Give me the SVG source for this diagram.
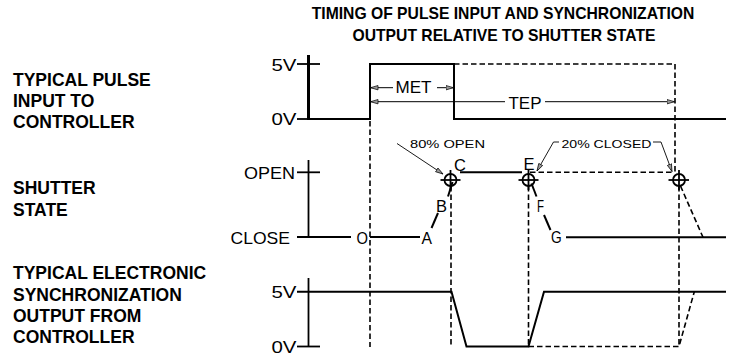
<svg xmlns="http://www.w3.org/2000/svg" width="746" height="356" viewBox="0 0 746 356">
<style>
.lbl{font-family:"Liberation Sans",Arial,sans-serif;font-weight:bold;font-size:17.5px;fill:#000}
.ttl{font-family:"Liberation Sans",Arial,sans-serif;font-weight:bold;font-size:15.7px;fill:#000;text-anchor:middle}
.cad{font-family:"Liberation Sans",Arial,sans-serif;font-size:16.5px;fill:#000}
.sm{font-family:"Liberation Sans",Arial,sans-serif;font-size:11.5px;fill:#000}
.sig{fill:none;stroke:#000;stroke-width:2}
.ax{fill:none;stroke:#000;stroke-width:1.8}
.dash{fill:none;stroke:#000;stroke-width:1.6;stroke-dasharray:5.5,3}
.thin{fill:none;stroke:#000;stroke-width:1}
.ld{fill:none;stroke:#000;stroke-width:0.9}
</style>
<defs>
<marker id="arr" markerUnits="userSpaceOnUse" markerWidth="9" markerHeight="6" refX="8" refY="3" orient="auto">
<path d="M0.5,0.8 L8,3 L0.5,5.2 Z" fill="#999" stroke="#000" stroke-width="0.7"/>
</marker>
</defs>

<g id="title">
<text class="ttl" x="503" y="18.5">TIMING OF PULSE INPUT AND SYNCHRONIZATION</text>
<text class="ttl" x="504" y="41">OUTPUT RELATIVE TO SHUTTER STATE</text>
</g>

<g id="label-pulse">
<text class="lbl" x="13" y="86">TYPICAL PULSE</text>
<text class="lbl" x="13" y="107">INPUT TO</text>
<text class="lbl" x="13" y="128">CONTROLLER</text>
</g>
<g id="label-shutter">
<text class="lbl" x="13" y="194">SHUTTER</text>
<text class="lbl" x="13" y="216">STATE</text>
</g>
<g id="label-sync">
<text class="lbl" x="13" y="279">TYPICAL ELECTRONIC</text>
<text class="lbl" x="13" y="300.5">SYNCHRONIZATION</text>
<text class="lbl" x="13" y="321.5">OUTPUT FROM</text>
<text class="lbl" x="13" y="342.5">CONTROLLER</text>
</g>

<g id="axis-pulse">
<line x1="308.5" y1="55" x2="308.5" y2="120" stroke="#000" stroke-width="3"/>
<line class="ax" x1="297" y1="64" x2="320" y2="64"/>
<line class="ax" x1="297" y1="119" x2="309" y2="119"/>
<text class="cad" x="271.5" y="70.5" textLength="25" lengthAdjust="spacingAndGlyphs">5V</text>
<text class="cad" x="271.5" y="125" textLength="25" lengthAdjust="spacingAndGlyphs">0V</text>
</g>
<g id="axis-shutter">
<line class="ax" x1="308.5" y1="160" x2="308.5" y2="237"/>
<line class="ax" x1="297" y1="172.3" x2="320" y2="172.3"/>
<text class="cad" x="244" y="178.5" textLength="51" lengthAdjust="spacingAndGlyphs">OPEN</text>
<text class="cad" x="230.5" y="243.5" textLength="59.5" lengthAdjust="spacingAndGlyphs">CLOSE</text>
</g>
<g id="axis-sync">
<line class="ax" x1="308.5" y1="278" x2="308.5" y2="346.5"/>
<line class="ax" x1="297" y1="346.5" x2="320" y2="346.5"/>
<text class="cad" x="271.5" y="298" textLength="25" lengthAdjust="spacingAndGlyphs">5V</text>
<text class="cad" x="271.5" y="353" textLength="25" lengthAdjust="spacingAndGlyphs">0V</text>
</g>

<g id="connectors">
<!-- pulse signal -->
<polyline class="sig" points="308,119 370,119 370,64 454,64 454,119 726,119"/>
<polyline class="dash" points="454,64 675,64 675,172"/>
<!-- vertical guides -->
<line class="dash" x1="370" y1="121" x2="370" y2="347"/>
<line class="dash" x1="451" y1="186" x2="451" y2="347"/>
<line class="dash" x1="528.5" y1="186" x2="528.5" y2="347"/>
<line class="dash" x1="679" y1="186" x2="679" y2="347"/>
<!-- MET / TEP -->
<line class="thin" x1="393" y1="87.7" x2="370.5" y2="87.7" marker-end="url(#arr)"/>
<line class="thin" x1="437" y1="87.7" x2="453.5" y2="87.7" marker-end="url(#arr)"/>
<line class="thin" x1="505" y1="101.7" x2="370.5" y2="101.7" marker-end="url(#arr)"/>
<line class="thin" x1="545" y1="101.7" x2="674.5" y2="101.7" marker-end="url(#arr)"/>
<!-- shutter state -->
<line class="sig" x1="297" y1="237" x2="351" y2="237"/>
<line class="sig" x1="370" y1="237" x2="420" y2="237"/>
<line class="sig" x1="431.5" y1="228" x2="438" y2="213"/>
<line class="sig" x1="448" y1="196.5" x2="452.5" y2="182"/>
<line class="sig" x1="460" y1="172.3" x2="522" y2="172.3"/>
<line class="dash" x1="530" y1="172.3" x2="674" y2="172.3"/>
<line class="sig" x1="531.5" y1="183.5" x2="536.5" y2="196.5"/>
<line class="sig" x1="544" y1="215" x2="550.5" y2="230"/>
<line class="sig" x1="566" y1="237.3" x2="726" y2="237.3"/>
<line class="dash" x1="680.5" y1="186" x2="703" y2="237.3"/>
<!-- sync output -->
<polyline class="sig" points="297,291.7 451.5,291.7 466.5,346.5 528.5,346.5 544,291.7 726,291.7"/>
<polyline class="dash" points="528.5,346.5 679,346.5 694.3,291.7"/>
<!-- leaders -->
<line class="ld" x1="397" y1="143.5" x2="443" y2="174" marker-end="url(#arr)"/>
<polyline class="ld" points="559,142 553.5,142 537,171" marker-end="url(#arr)"/>
<polyline class="ld" points="653,142 661,142 672,171.5" marker-end="url(#arr)"/>
</g>

<g id="point-C">
<circle class="ax" cx="450.5" cy="180" r="6" stroke-width="1.5"/>
<line class="ax" x1="440.5" y1="180" x2="460.5" y2="180" stroke-width="1.5"/>
<line class="ax" x1="450.5" y1="170" x2="450.5" y2="190" stroke-width="1.5"/>
<text class="cad" x="454" y="171">C</text>
</g>
<g id="point-E">
<circle class="ax" cx="528.5" cy="180" r="6" stroke-width="1.5"/>
<line class="ax" x1="518.5" y1="180" x2="538.5" y2="180" stroke-width="1.5"/>
<line class="ax" x1="528.5" y1="170" x2="528.5" y2="190" stroke-width="1.5"/>
<text class="cad" x="523.5" y="170">E</text>
</g>
<g id="point-R">
<circle class="ax" cx="679" cy="180" r="6" stroke-width="1.5"/>
<line class="ax" x1="668.5" y1="180" x2="689" y2="180" stroke-width="1.5"/>
<line class="ax" x1="679" y1="170" x2="679" y2="190" stroke-width="1.5"/>
</g>
<g id="point-labels">
<text class="cad" x="356.5" y="244" textLength="11.5" lengthAdjust="spacingAndGlyphs">O</text>
<text class="cad" x="421.5" y="244" textLength="10.5" lengthAdjust="spacingAndGlyphs">A</text>
<text class="cad" x="436" y="211.7" textLength="11" lengthAdjust="spacingAndGlyphs">B</text>
<text class="cad" x="537" y="211.7" textLength="7" lengthAdjust="spacingAndGlyphs">F</text>
<text class="cad" x="551" y="243.3" textLength="10.7" lengthAdjust="spacingAndGlyphs">G</text>
</g>
<g id="annotations">
<text class="cad" x="395.5" y="92.5" textLength="36" lengthAdjust="spacingAndGlyphs">MET</text>
<text class="cad" x="508.5" y="108.5" textLength="33" lengthAdjust="spacingAndGlyphs">TEP</text>
<text class="sm" x="410" y="148.3" textLength="75" lengthAdjust="spacingAndGlyphs">80%  OPEN</text>
<text class="sm" x="561.5" y="147.5" textLength="90" lengthAdjust="spacingAndGlyphs">20%  CLOSED</text>
</g>
</svg>
